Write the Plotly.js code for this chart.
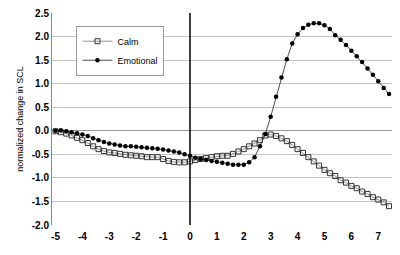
<!DOCTYPE html>
<html>
<head>
<meta charset="utf-8">
<script src="https://cdn.plot.ly/plotly-3.0.1.min.js"></script>
<style>html,body{margin:0;padding:0;background:#fff;}#chart{width:400px;height:255px;}</style>
</head>
<body>
<div id="chart"></div>
<script>
const time = [];
for (let i = 0; i < 63; i++) time.push(+(-5 + 0.2 * i).toFixed(1));

const calm = [-0.01,-0.03,-0.06,-0.10,-0.15,-0.20,-0.26,-0.33,-0.39,-0.43,
  -0.46,-0.47,-0.49,-0.51,-0.52,-0.53,-0.54,-0.56,-0.56,-0.56,
  -0.60,-0.64,-0.66,-0.67,-0.67,-0.65,-0.62,-0.60,-0.58,-0.56,
  -0.54,-0.53,-0.53,-0.49,-0.44,-0.39,-0.33,-0.27,-0.20,-0.10,
  -0.08,-0.11,-0.16,-0.22,-0.30,-0.39,-0.47,-0.56,-0.65,-0.74,
  -0.83,-0.90,-0.96,-1.05,-1.10,-1.17,-1.22,-1.29,-1.34,-1.41,
  -1.46,-1.52,-1.60];

const emotional = [0.00,0.01,-0.01,-0.03,-0.05,-0.08,-0.11,-0.16,-0.20,-0.24,
  -0.27,-0.29,-0.31,-0.33,-0.33,-0.34,-0.35,-0.36,-0.37,-0.38,
  -0.40,-0.42,-0.44,-0.46,-0.50,-0.53,-0.57,-0.60,-0.62,-0.64,
  -0.66,-0.68,-0.70,-0.72,-0.72,-0.72,-0.67,-0.56,-0.33,-0.07,
  0.30,0.72,1.13,1.52,1.85,2.05,2.18,2.25,2.28,2.28,
  2.24,2.16,2.03,1.93,1.82,1.70,1.58,1.46,1.32,1.19,
  1.05,0.91,0.78];

const xTicks = [-5,-4,-3,-2,-1,0,1,2,3,4,5,6,7];
const yTicks = [-2.0,-1.5,-1.0,-0.5,0.0,0.5,1.0,1.5,2.0,2.5];
const yTickText = ['-2.0','-1.5','-1.0','-0.5','0.0','0.5','1.0','1.5','2.0','2.5'];

const traces = [
  {x: time, y: calm, name: 'Calm', type: 'scatter', mode: 'lines+markers',
   line: {color: '#777', width: 0.8},
   marker: {symbol: 'square-open', size: 5, color: '#333', line: {width: 1}}},
  {x: time, y: emotional, name: 'Emotional', type: 'scatter', mode: 'lines+markers',
   line: {color: '#222', width: 0.8},
   marker: {symbol: 'circle', size: 4.5, color: '#000'}}
];

const layout = {
  width: 400, height: 255,
  margin: {l: 52, r: 8, t: 13, b: 30},
  paper_bgcolor: '#fff', plot_bgcolor: '#fff',
  font: {family: 'Liberation Sans, Arial, sans-serif', size: 9, color: '#000'},
  showlegend: true,
  legend: {x: 0.072, y: 0.94, xanchor: 'left', yanchor: 'top',
           bgcolor: '#fff', bordercolor: '#999', borderwidth: 1,
           font: {size: 9}, tracegroupgap: 0, itemwidth: 30},
  xaxis: {range: [-5.13, 7.51], tickvals: xTicks, ticktext: xTicks.map(String),
          showgrid: false, zeroline: false, showline: false, ticks: '',
          tickfont: {size: 10, weight: 'bold'}, ticklabelstandoff: 4},
  xaxis2: {overlaying: 'x', matches: 'x', anchor: 'free', position: 0.4444,
           tickvals: xTicks, showticklabels: false, ticks: 'outside', ticklen: 3,
           tickcolor: '#555', showgrid: false, zeroline: false, showline: false},
  yaxis: {range: [-2.0, 2.5], tickvals: yTicks, ticktext: yTickText,
          showgrid: true, gridcolor: '#c4c4c4', gridwidth: 1,
          zeroline: true, zerolinecolor: '#999', zerolinewidth: 1,
          showline: true, linecolor: '#888', linewidth: 1, ticks: '',
          tickfont: {size: 10, weight: 'bold'},
          title: {text: 'normalized change in SCL', font: {size: 9}, standoff: 6}},
  shapes: [{type: 'line', xref: 'x', yref: 'paper', x0: 0, x1: 0, y0: 0, y1: 1,
            line: {color: '#000', width: 1.5}}]
};

Plotly.newPlot('chart', traces, layout, {displayModeBar: false, staticPlot: true});
</script>
</body>
</html>
